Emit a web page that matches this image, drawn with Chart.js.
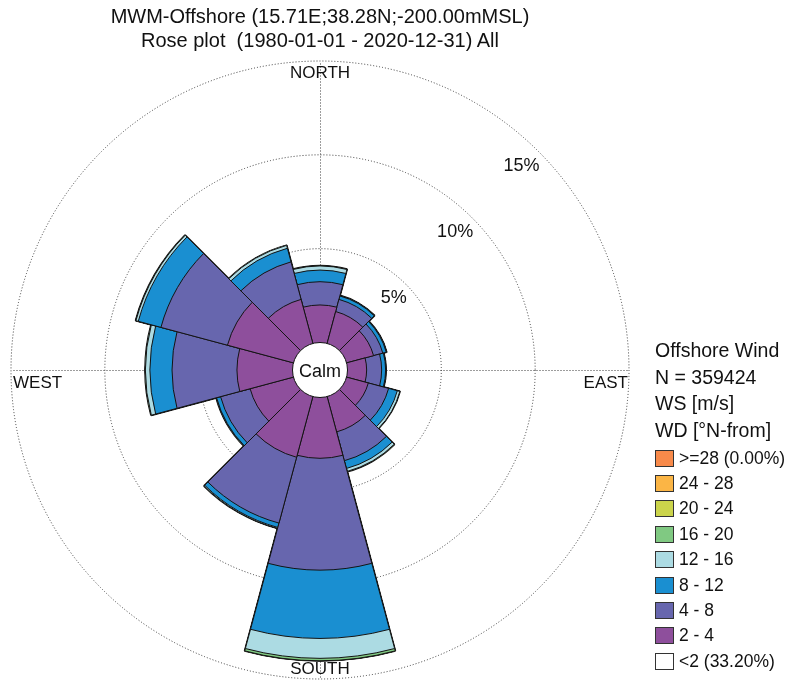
<!DOCTYPE html>
<html>
<head>
<meta charset="utf-8">
<script src="https://cdn.jsdelivr.net/npm/chart.js@4.4.1/dist/chart.umd.min.js"></script>
<style>
  html, body { margin: 0; padding: 0; background: #fff; }
  #wrap { position: relative; width: 787px; height: 680px; overflow: hidden;
          font-family: "Liberation Sans", Arial, Helvetica, sans-serif; color: #111; }
  #rose { position: absolute; left: 0; top: 0; }
  #title { position: absolute; left: 0; top: 4px; width: 640px; text-align: center;
           font-size: 20px; line-height: 24px; white-space: pre; }
  #legend { position: absolute; left: 655px; top: 337px; width: 132px; height: 340px; }
  .hdr { font-size: 19.5px; line-height: 26.5px; white-space: nowrap; }
  .item { position: absolute; left: 0; height: 20px; display: flex; align-items: center;
          font-size: 17.5px; white-space: nowrap; }
  .box { width: 19px; height: 17px; border: 1px solid #333; box-sizing: border-box; margin-right: 5px; }
</style>
</head>
<body>
<div id="wrap">
  <canvas id="rose" width="787" height="680"></canvas>
  <div id="title"></div>
  <div id="legend"></div>
</div>
<script>
// Wind directions (sector centres, clockwise from north, 30 deg each)
const directions = ['N', 'NNE', 'ENE', 'E', 'ESE', 'SSE', 'S', 'SSW', 'WSW', 'W', 'WNW', 'NNW'];

// Frequency (% of all records) per direction for each wind-speed class [m/s]
const ws2to4   = [2.00, 1.76, 1.49, 1.02, 1.20, 1.95, 3.24, 3.35, 2.39, 2.96, 3.64, 2.43];
const ws4to8   = [1.24, 0.67, 0.51, 0.80, 1.12, 1.59, 5.96, 3.63, 1.63, 3.46, 3.67, 2.07];
const ws8to12  = [0.62, 0.19, 0.19, 0.21, 0.48, 0.43, 3.64, 0.24, 0.22, 1.18, 1.25, 0.75];
const ws12to16 = [0.22, 0.02, 0.02, 0.02, 0.14, 0.16, 1.06, 0.05, 0.02, 0.24, 0.13, 0.16];
const ws16to20 = [0.01, 0.00, 0.00, 0.00, 0.00, 0.01, 0.13, 0.00, 0.00, 0.01, 0.01, 0.00];
const ws20to24 = [0.00, 0.00, 0.00, 0.00, 0.00, 0.00, 0.00, 0.00, 0.00, 0.00, 0.00, 0.00];
const ws24to28 = [0.00, 0.00, 0.00, 0.00, 0.00, 0.00, 0.00, 0.00, 0.00, 0.00, 0.00, 0.00];
const ws28up   = [0.00, 0.00, 0.00, 0.00, 0.00, 0.00, 0.00, 0.00, 0.00, 0.00, 0.00, 0.00];

// Share of calm records (< 2 m/s) and of the top class
const calmPercent = 33.20;
const topPercent = 0.00;
const recordCount = 359424;

// Speed classes, innermost first
const speedClasses = ['2 - 4', '4 - 8', '8 - 12', '12 - 16', '16 - 20', '20 - 24', '24 - 28', '>=28'];
const classColors  = ['#8e4f9c', '#6766ae', '#1a8fd1', '#acdbe3', '#80c982', '#cbd44b', '#fbb545', '#f88a4a'];
const calmColor = '#ffffff';

// Radial rings and compass labels
const ringPercents = [5, 10, 15];
const compassNames = ['NORTH', 'EAST', 'SOUTH', 'WEST'];

const titleLines = ['MWM-Offshore (15.71E;38.28N;-200.00mMSL)', 'Rose plot  (1980-01-01 - 2020-12-31) All'];
const legendHeader = ['Offshore Wind', 'N = ' + recordCount, 'WS [m/s]', 'WD [\u00B0N-from]'];

// ---------------------------------------------------------------------------
const FONT = '"Liberation Sans", Arial, Helvetica, sans-serif';
const speedSeries = [ws2to4, ws4to8, ws8to12, ws12to16, ws16to20, ws20to24, ws24to28, ws28up];

// Running totals: each class wedge reaches out to its stacked outer edge
const stacked = [];
let running = directions.map(() => 0);
speedSeries.forEach(series => {
  running = running.map((v, i) => +(v + series[i]).toFixed(4));
  stacked.push(running);
});

const rMax = ringPercents[ringPercents.length - 1];
const holeFraction = 27.5 / 309;                         // calm disc share of the radius
const rMin = -rMax * holeFraction / (1 - holeFraction);   // so that 0 % sits on the calm disc

const DOT = [1, 2];
const DOT_COLOR = '#3a3a3a';

const roseDecor = {
  id: 'roseDecor',
  beforeDatasetsDraw(chart) {
    const s = chart.scales.r, ctx = chart.ctx;
    const xc = s.xCenter + 0.5, yc = s.yCenter + 0.5, R = s.drawingArea;
    ctx.save();
    ctx.strokeStyle = DOT_COLOR;
    ctx.lineWidth = 1;
    ctx.setLineDash(DOT);
    [0, 90, 180, 270].forEach(deg => {
      const a = deg * Math.PI / 180;
      ctx.beginPath();
      ctx.moveTo(xc, yc);
      ctx.lineTo(xc + Math.sin(a) * R, yc - Math.cos(a) * R);
      ctx.stroke();
    });
    ctx.restore();
  },
  afterDatasetsDraw(chart) {
    const s = chart.scales.r, ctx = chart.ctx;
    const xc = s.xCenter, yc = s.yCenter, R = s.drawingArea;
    ctx.save();
    // calm disc
    const hole = s.getDistanceFromCenterForValue(0);
    ctx.beginPath();
    ctx.arc(xc, yc, hole, 0, Math.PI * 2);
    ctx.fillStyle = calmColor;
    ctx.fill();
    ctx.lineWidth = 1;
    ctx.strokeStyle = '#111';
    ctx.stroke();
    ctx.fillStyle = '#111';
    ctx.font = '18px ' + FONT;
    ctx.textAlign = 'center';
    ctx.textBaseline = 'middle';
    ctx.fillText('Calm', xc, yc + 2);

    // ring labels on the north-east diagonal
    ctx.font = '18px ' + FONT;
    ctx.textAlign = 'right';
    ctx.textBaseline = 'alphabetic';
    ringPercents.forEach(p => {
      const d = s.getDistanceFromCenterForValue(p);
      ctx.fillText(p + '%', xc + d * Math.SQRT1_2 + 1, yc - d * Math.SQRT1_2 + 19);
    });

    // compass labels just inside the outer ring
    ctx.font = '17px ' + FONT;
    ctx.textBaseline = 'middle';
    ctx.textAlign = 'center';
    ctx.fillText(compassNames[0], xc, yc - R + 12);
    ctx.fillText(compassNames[2], xc, yc + R - 10);
    ctx.textAlign = 'right';
    ctx.fillText(compassNames[1], xc + R - 1, yc + 13);
    ctx.textAlign = 'left';
    ctx.fillText(compassNames[3], xc - R + 2, yc + 13);
    ctx.restore();
  }
};

new Chart(document.getElementById('rose'), {
  type: 'polarArea',
  data: {
    labels: directions,
    datasets: speedClasses.map((name, k) => ({
      label: name,
      data: stacked[k],
      backgroundColor: classColors[k],
      borderColor: '#141414',
      borderWidth: k === speedClasses.length - 1 ? 2 : 1
    }))
  },
  options: {
    responsive: false,
    animation: false,
    events: [],
    devicePixelRatio: 1,
    layout: { padding: { left: 11, top: 61, right: 158, bottom: 1 } },
    plugins: { legend: { display: false }, tooltip: { enabled: false } },
    scales: {
      r: {
        min: rMin,
        max: rMax,
        startAngle: -15,
        afterBuildTicks: axis => {
          axis.ticks = [{ value: rMin }].concat(ringPercents.map(v => ({ value: v })));
        },
        ticks: { display: false },
        grid: { display: true, circular: true, color: DOT_COLOR, lineWidth: 1 },
        border: { dash: DOT },
        angleLines: { display: false },
        pointLabels: { display: false }
      }
    }
  },
  plugins: [roseDecor]
});

// Title
document.getElementById('title').textContent = titleLines.join('\n');

// Legend: header lines, then classes from the top class down to calm
const legendEl = document.getElementById('legend');
legendHeader.forEach(t => {
  const d = document.createElement('div');
  d.className = 'hdr';
  d.textContent = t;
  legendEl.appendChild(d);
});
const legendLabels = ['<2 (' + calmPercent.toFixed(2) + '%)'].concat(speedClasses.slice(0, -1),
  [speedClasses[speedClasses.length - 1] + ' (' + topPercent.toFixed(2) + '%)']);
const legendColors = [calmColor].concat(classColors);
for (let k = legendLabels.length - 1, row = 0; k >= 0; k--, row++) {
  const item = document.createElement('div');
  item.className = 'item';
  item.style.top = (458 + 25.4 * row - 10 - 337) + 'px';
  const box = document.createElement('span');
  box.className = 'box';
  box.style.background = legendColors[k];
  const txt = document.createElement('span');
  txt.textContent = legendLabels[k];
  item.appendChild(box);
  item.appendChild(txt);
  legendEl.appendChild(item);
}
</script>
</body>
</html>
